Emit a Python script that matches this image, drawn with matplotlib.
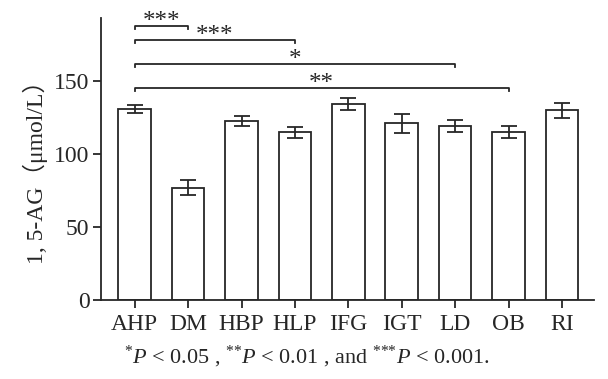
import numpy as np
import matplotlib
matplotlib.use("Agg")
import matplotlib.pyplot as plt

groups = ["AHP", "DM", "HBP", "HLP", "IFG", "IGT", "LD", "OB", "RI"]
means = [130.8, 76.9, 122.4, 114.8, 134.0, 120.8, 119.2, 115.1, 129.7]
errs = [2.5, 5.0, 3.2, 3.7, 4.2, 6.4, 4.3, 4.3, 5.0]

# significance brackets: (from, to, height, stars)
sig_from = [0, 0, 0, 0]
sig_to = [1, 3, 6, 7]
sig_y = [187.7, 177.9, 161.4, 145.0]
sig_lab = ["***", "***", "*", "**"]

plt.rcParams["font.family"] = ["Liberation Serif", "Noto Sans CJK SC"]
plt.rcParams["mathtext.fontset"] = "custom"
plt.rcParams["mathtext.rm"] = "Liberation Serif"
plt.rcParams["mathtext.it"] = "Liberation Serif:italic"

ink = "#262626"
fig = plt.figure(figsize=(6.08, 3.79), dpi=100)
ax = fig.add_axes([100.5 / 608, 79 / 379, 493.5 / 608, 282 / 379])

x = np.arange(len(groups))
ax.bar(x, means, width=0.61, color="white", edgecolor=ink, linewidth=1.3, zorder=2)
ax.errorbar(x, means, yerr=errs, fmt="none", ecolor=ink, elinewidth=1.3,
            capsize=5.8, capthick=1.3, zorder=3)

tick_h = 2.2
for a, b, h, lab in zip(sig_from, sig_to, sig_y, sig_lab):
    ax.plot([a, a, b, b], [h - tick_h, h, h, h - tick_h], color=ink, lw=1.3,
            clip_on=False)
    ax.text((a + b) / 2, h - 1.5, lab, ha="center", va="baseline", fontsize=18,
            color=ink)

ax.set_xlim(-0.64, 8.6)
ax.set_ylim(0, 193)
ax.set_yticks([0, 50, 100, 150])
ax.set_xticks(x)
ax.set_xticklabels(groups)
ax.tick_params(axis="both", labelsize=17, colors=ink, width=1.3, length=6,
               direction="out")
ax.tick_params(axis="x", pad=4)
ax.tick_params(axis="y", pad=2)
for side in ["top", "right"]:
    ax.spines[side].set_visible(False)
for side in ["left", "bottom"]:
    ax.spines[side].set_linewidth(1.3)
    ax.spines[side].set_color(ink)

fig.text(35 / 608, 1 - 166 / 379, "1, 5-AG（μmol/L）", rotation=90,
         ha="center", va="center", fontsize=17, color=ink)

fig.text(307 / 608, 1 - 357 / 379,
         r"$^{{*}}P$ < 0.05 , $^{{*}{*}}P$ < 0.01 , and $^{{*}{*}{*}}P$ < 0.001.",
         ha="center", va="center", fontsize=16, color=ink)

fig.savefig("out.png", dpi=100)
